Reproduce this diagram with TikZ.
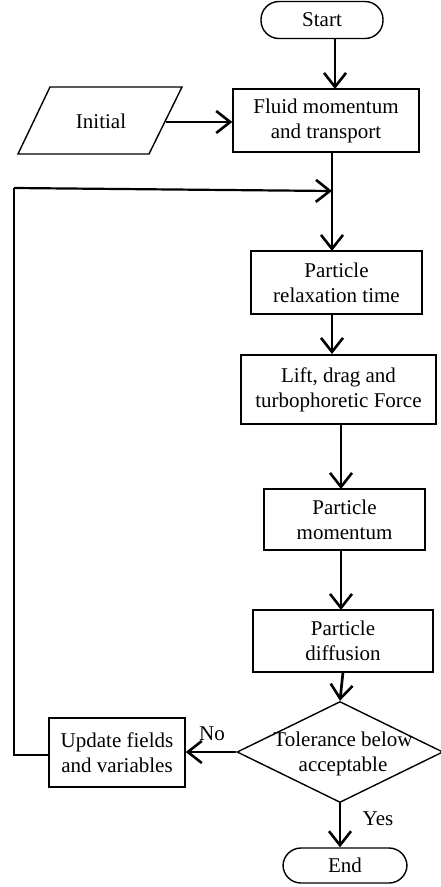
\documentclass[tikz,border=0pt]{standalone}
\usepackage{fontspec}
\setmainfont{Liberation Serif}
\usetikzlibrary{arrows.meta,shapes.geometric}
\begin{document}
\begin{tikzpicture}[x=1pt,y=-1pt,
  font=\fontsize{21pt}{25pt}\selectfont,
  box/.style={draw,line width=1.4pt,align=center,inner sep=0pt},
  term/.style={draw,line width=1.4pt,rounded corners=18pt,inner sep=0pt},
  tip/.style={-{Straight Barb[length=14pt,width=22pt,line width=2.6pt]}},
  arr/.style={line width=2.7pt,tip},
  lbl/.style={inner sep=0pt}]
\useasboundingbox (0,0) rectangle (441,887);
\node[term,minimum width=122pt,minimum height=37pt] (start) at (322,20) {Start};
\node[box,minimum width=186pt,minimum height=63pt] (fluid) at (326,120.5) {Fluid momentum\\and transport};
\draw[line width=1.4pt] (50,87) -- (182,87) -- (149,154) -- (18,154) -- cycle;
\node[lbl] (init) at (101,121) {Initial};
\coordinate (initR) at (166,122);
\node[box,minimum width=171pt,minimum height=63pt] (relax) at (336.5,282.5) {Particle\\relaxation time};
\node[box,minimum width=195pt,minimum height=69pt] (lift) at (338.5,389.5) {Lift, drag and\\turbophoretic Force};
\node[box,minimum width=161pt,minimum height=61pt] (mom) at (344.5,519.5) {Particle\\momentum};
\node[box,minimum width=180pt,minimum height=62pt] (diff) at (343,641) {Particle\\diffusion};
\node[draw,diamond,line width=1.4pt,inner sep=0pt,minimum width=206pt,minimum height=101pt] (tol) at (340,752) {};
\node[lbl,align=center] (toltext) at (343,754) {Tolerance below\\acceptable};
\node[box,minimum width=136pt,minimum height=69pt] (upd) at (117,752.5) {Update fields\\and variables};
\node[term,minimum width=124pt,minimum height=35pt] (end) at (345,865.5) {End};
\node[lbl] (no) at (212,734) {No};
\node[lbl] (yes) at (378,819) {Yes};
\coordinate (startB) at (335,38);
\coordinate (fluidT) at (335,89);
\coordinate (fluidB) at (332,152);
\coordinate (relaxT) at (332,251);
\coordinate (join) at (332,191);
\coordinate (loopTL) at (14,188);
\coordinate (loopBL) at (14,755);
\coordinate (updL) at (49,755);
\draw[arr] (startB) -- (fluidT);
\draw[arr] (initR) -- (fluid.west |- initR);
\draw[line width=2.7pt] (fluidB) -- (join);
\draw[arr] (join) -- (relaxT);
\draw[line width=1.5pt] (updL) -- (loopBL) -- (loopTL);
\draw[line width=2.2pt,tip] (loopTL) -- (join);
\draw[arr] (332,314) -- (332,354);
\draw[arr] (341,424) -- (341,489);
\draw[arr] (341,550) -- (341,610);
\draw[arr] (343,672) -- (tol.north);
\draw[arr] (tol.west) -- (upd.east |- tol.west);
\draw[arr] (tol.south) -- (end.north -| tol.south);
\end{tikzpicture}
\end{document}
